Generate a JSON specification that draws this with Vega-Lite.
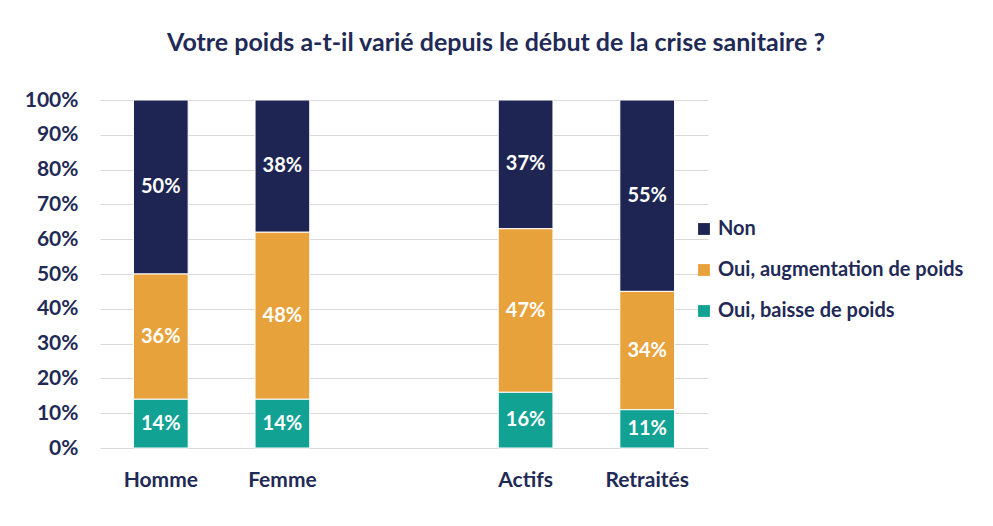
{
  "$schema": "https://vega.github.io/schema/vega-lite/v6.json",
  "width": 608,
  "height": 348,
  "autosize": {"type": "none"},
  "padding": {"left": 100, "top": 100, "right": 285, "bottom": 78},
  "background": "white",
  "config": {
    "view": {"stroke": null},
    "axisY": {
      "title": null,
      "format": ".0%",
      "values": [0, 0.1, 0.2, 0.3, 0.4, 0.5, 0.6, 0.7, 0.8, 0.9, 1],
      "labelOverlap": false,
      "labelFont": "Lato",
      "labelFontSize": 21,
      "labelFontWeight": "bold",
      "labelColor": "#1F2A56",
      "labelPadding": 22,
      "ticks": false,
      "domain": false,
      "grid": true,
      "gridColor": "#D9D9D9",
      "gridWidth": 1
    }
  },
  "title": {
    "text": "Votre poids a-t-il varié depuis le début de la crise sanitaire ?",
    "font": "Lato",
    "fontSize": 25,
    "fontWeight": "bold",
    "color": "#1F2A56",
    "anchor": "middle",
    "dx": 92,
    "offset": 33
  },
  "data": {
    "values": [
      {"cat": "Homme", "rep": "Non", "v": 0.50, "ord": 3},
      {"cat": "Homme", "rep": "Oui, augmentation de poids", "v": 0.36, "ord": 2},
      {"cat": "Homme", "rep": "Oui, baisse de poids", "v": 0.14, "ord": 1},
      {"cat": "Femme", "rep": "Non", "v": 0.38, "ord": 3},
      {"cat": "Femme", "rep": "Oui, augmentation de poids", "v": 0.48, "ord": 2},
      {"cat": "Femme", "rep": "Oui, baisse de poids", "v": 0.14, "ord": 1},
      {"cat": "Actifs", "rep": "Non", "v": 0.37, "ord": 3},
      {"cat": "Actifs", "rep": "Oui, augmentation de poids", "v": 0.47, "ord": 2},
      {"cat": "Actifs", "rep": "Oui, baisse de poids", "v": 0.16, "ord": 1},
      {"cat": "Retraités", "rep": "Non", "v": 0.55, "ord": 3},
      {"cat": "Retraités", "rep": "Oui, augmentation de poids", "v": 0.34, "ord": 2},
      {"cat": "Retraités", "rep": "Oui, baisse de poids", "v": 0.11, "ord": 1}
    ]
  },
  "transform": [
    {"stack": "v", "groupby": ["cat"], "sort": [{"field": "ord"}], "as": ["v0", "v1"]},
    {"calculate": "(datum.v0 + datum.v1) / 2", "as": "vmid"}
  ],
  "encoding": {
    "x": {
      "field": "cat",
      "type": "nominal",
      "sort": null,
      "scale": {"domain": ["Homme", "Femme", "", "Actifs", "Retraités"], "paddingInner": 0.55, "paddingOuter": 0.275},
      "axis": {
        "title": null,
        "labelAngle": 0,
        "labelFont": "Lato",
        "labelFontSize": 21,
        "labelFontWeight": "bold",
        "labelColor": "#1F2A56",
        "labelPadding": 21,
        "ticks": false,
        "domain": false,
        "grid": false
      }
    }
  },
  "layer": [
    {
      "mark": {"type": "bar", "stroke": "white", "strokeWidth": 1},
      "encoding": {
        "y": {"field": "v0", "type": "quantitative", "title": null, "scale": {"domain": [0, 1]}},
        "y2": {"field": "v1"},
        "color": {
          "field": "rep",
          "type": "nominal",
          "scale": {
            "domain": ["Non", "Oui, augmentation de poids", "Oui, baisse de poids"],
            "range": ["#1E2552", "#E8A23C", "#12A294"]
          },
          "legend": {
            "title": null,
            "orient": "none",
            "legendX": 594,
            "legendY": 119,
            "symbolType": "square",
            "symbolSize": 140,
            "symbolStrokeWidth": 0,
            "labelFont": "Lato",
            "labelFontSize": 20,
            "labelFontWeight": "bold",
            "labelColor": "#1F2A56",
            "labelOffset": 4,
            "rowPadding": 21,
            "labelLimit": 400
          }
        }
      }
    },
    {
      "mark": {"type": "text", "color": "white", "font": "Lato", "fontSize": 20, "fontWeight": "bold", "baseline": "middle"},
      "encoding": {
        "y": {"field": "vmid", "type": "quantitative", "title": null},
        "text": {"field": "v", "type": "quantitative", "format": ".0%"}
      }
    }
  ]
}
